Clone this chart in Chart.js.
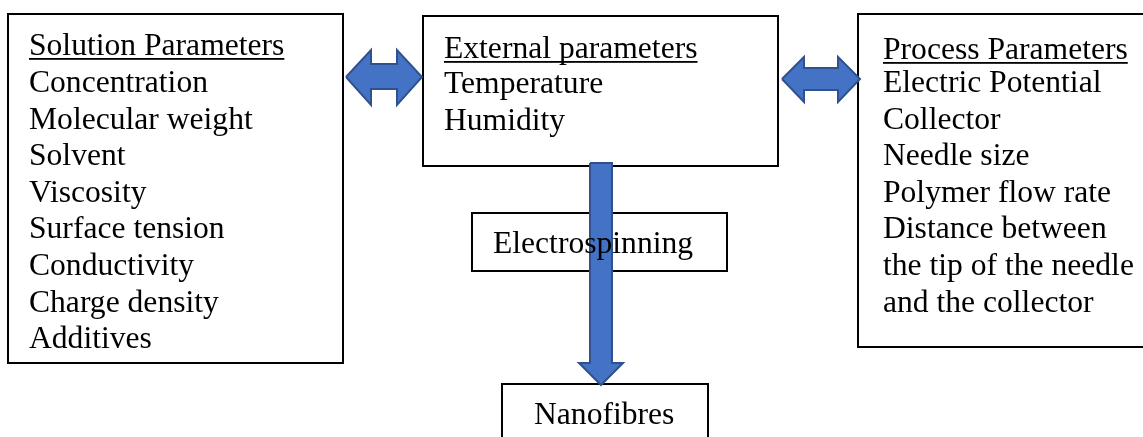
<!DOCTYPE html>
<html>
<head>
<meta charset="utf-8">
<script src="https://cdn.jsdelivr.net/npm/chart.js@4.4.0/dist/chart.umd.min.js"></script>
<style>
    html, body { margin: 0; padding: 0; background: #fff; }
    #wrap { width: 1143px; height: 437px; position: relative; }
</style>
</head>
<body>
<div id="wrap"><canvas id="diagram"></canvas></div>
<script>
// Diagram text
const boxTitles = ['Solution Parameters', 'External parameters', 'Process Parameters'];
const solutionParams = ['Concentration', 'Molecular weight', 'Solvent', 'Viscosity',
    'Surface tension', 'Conductivity', 'Charge density', 'Additives'];
const externalParams = ['Temperature', 'Humidity'];
const processParams = ['Electric Potential', 'Collector', 'Needle size', 'Polymer flow rate',
    'Distance between', 'the tip of the needle', 'and the collector'];
const stageLabels = ['Electrospinning', 'Nanofibres'];

// Layout (in canvas units, the scales run 0..1143 and 0..437)
const W = 1143, H = 437;
const boxes = [
    { x0: 8, y0: 14, x1: 343, y1: 363 },     // solution
    { x0: 423, y0: 16, x1: 778, y1: 166 },   // external
    { x0: 858, y0: 14, x1: 1150, y1: 347 },  // process
    { x0: 472, y0: 213, x1: 727, y1: 271 },  // electrospinning
    { x0: 502, y0: 384, x1: 708, y1: 445 }   // nanofibres
];
const textBlocks = [
    { x: 29, titleY: 55, firstY: 92, title: boxTitles[0], items: solutionParams },
    { x: 444, titleY: 58, firstY: 93, title: boxTitles[1], items: externalParams },
    { x: 883, titleY: 59, firstY: 92, title: boxTitles[2], items: processParams }
];
const stageText = [
    { x: 493, y: 253, text: stageLabels[0] },
    { x: 534, y: 424, text: stageLabels[1] }
];
const lineGap = 36.6;
const FONT = '31.6px "Liberation Serif", "Times New Roman", serif';

function rectPoints(b) {
    return [
        { x: b.x0, y: b.y0 }, { x: b.x1, y: b.y0 }, { x: b.x1, y: b.y1 },
        { x: b.x0, y: b.y1 }, { x: b.x0, y: b.y0 }, { x: b.x1, y: b.y0 }
    ];
}

// double headed horizontal arrow
function hArrow(a) {
    const c = a.cy;
    return [
        { x: a.x0, y: c }, { x: a.x0 + a.head, y: a.top }, { x: a.x0 + a.head, y: a.st },
        { x: a.x1 - a.head, y: a.st }, { x: a.x1 - a.head, y: a.top }, { x: a.x1, y: c },
        { x: a.x1 - a.head, y: a.bot }, { x: a.x1 - a.head, y: a.sb }, { x: a.x0 + a.head, y: a.sb },
        { x: a.x0 + a.head, y: a.bot }, { x: a.x0, y: c }
    ];
}

function vArrow(a) {
    return [
        { x: a.l, y: a.top }, { x: a.r, y: a.top }, { x: a.r, y: a.headY },
        { x: a.hr, y: a.headY }, { x: a.tipX, y: a.tipY }, { x: a.hl, y: a.headY },
        { x: a.l, y: a.headY }, { x: a.l, y: a.top }
    ];
}

const arrows = [
    hArrow({ x0: 346, x1: 422, cy: 77, head: 25, top: 50, bot: 105, st: 64, sb: 89 }),
    hArrow({ x0: 782, x1: 860, cy: 79, head: 22, top: 57, bot: 102, st: 68, sb: 90 }),
    vArrow({ l: 590, r: 612, top: 163, headY: 363, hl: 579, hr: 623, tipX: 601, tipY: 385 })
];

const datasets = [];
arrows.forEach(pts => {
    datasets.push({
        data: pts, showLine: true, fill: 'shape', tension: 0,
        backgroundColor: '#4472C4', borderColor: '#2F528F', borderWidth: 2,
        borderJoinStyle: 'miter', pointRadius: 0, order: 1
    });
});
boxes.forEach(b => {
    datasets.push({
        data: rectPoints(b), showLine: true, fill: false, tension: 0,
        borderColor: '#000', borderWidth: 2, borderJoinStyle: 'miter',
        pointRadius: 0, order: 2
    });
});

// Text plugin
const textPlugin = {
    id: 'diagramText',
    afterDatasetsDraw(chart) {
        const ctx = chart.ctx;
        const xs = chart.scales.x, ys = chart.scales.y;
        ctx.save();
        ctx.font = FONT;
        ctx.fillStyle = '#000';
        ctx.textBaseline = 'alphabetic';
        ctx.textAlign = 'left';
        textBlocks.forEach(tb => {
            const px = xs.getPixelForValue(tb.x);
            const ty = ys.getPixelForValue(tb.titleY);
            ctx.fillText(tb.title, px, ty);
            const w = ctx.measureText(tb.title).width;
            ctx.fillRect(px, ty + 3, w, 1.8);
            tb.items.forEach((t, i) => {
                ctx.fillText(t, px, ys.getPixelForValue(tb.firstY + i * lineGap));
            });
        });
        stageText.forEach(s => {
            ctx.fillText(s.text, xs.getPixelForValue(s.x), ys.getPixelForValue(s.y));
        });
        ctx.restore();
    }
};

new Chart(document.getElementById('diagram'), {
    type: 'scatter',
    data: { datasets: datasets },
    options: {
        responsive: true,
        maintainAspectRatio: false,
        animation: false,
        layout: { padding: 0 },
        plugins: { legend: { display: false }, tooltip: { enabled: false } },
        scales: {
            x: { type: 'linear', min: 0, max: W, display: false },
            y: { type: 'linear', min: 0, max: H, reverse: true, display: false }
        }
    },
    plugins: [textPlugin]
});
</script>
</body>
</html>
